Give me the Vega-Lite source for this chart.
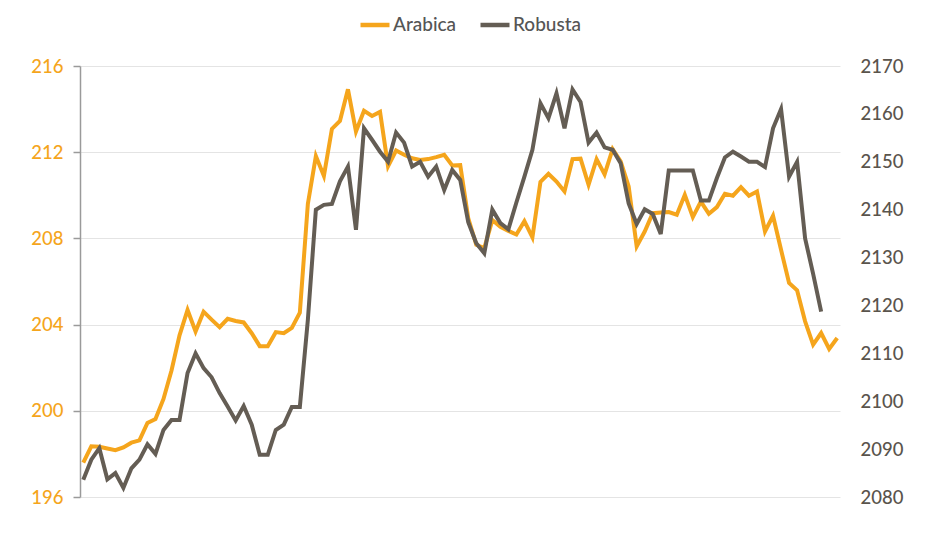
{
  "$schema": "https://vega.github.io/schema/vega-lite/v6.json",
  "width": 760,
  "height": 431,
  "autosize": "none",
  "padding": {"left": 80, "top": 66, "right": 90, "bottom": 42},
  "background": "white",
  "config": {
    "view": {"stroke": null},
    "font": "Lato",
    "axis": {"labelFont": "Lato", "titleFont": "Lato"},
    "legend": {"labelFont": "Lato"}
  },
  "data": {
    "values": [
      {"day": 0, "arabica": 197.6, "robusta": 2083.6},
      {"day": 1, "arabica": 198.35, "robusta": 2087.8},
      {"day": 2, "arabica": 198.33, "robusta": 2090.2},
      {"day": 3, "arabica": 198.25, "robusta": 2083.7},
      {"day": 4, "arabica": 198.17, "robusta": 2085.0},
      {"day": 5, "arabica": 198.3, "robusta": 2081.9},
      {"day": 6, "arabica": 198.52, "robusta": 2086.0},
      {"day": 7, "arabica": 198.63, "robusta": 2087.8},
      {"day": 8, "arabica": 199.44, "robusta": 2091.0},
      {"day": 9, "arabica": 199.62, "robusta": 2089.0},
      {"day": 10, "arabica": 200.55, "robusta": 2094.0},
      {"day": 11, "arabica": 201.87, "robusta": 2096.1},
      {"day": 12, "arabica": 203.5, "robusta": 2096.1},
      {"day": 13, "arabica": 204.68, "robusta": 2105.9},
      {"day": 14, "arabica": 203.68, "robusta": 2110.0},
      {"day": 15, "arabica": 204.6, "robusta": 2106.9},
      {"day": 16, "arabica": 204.23, "robusta": 2105.0},
      {"day": 17, "arabica": 203.88, "robusta": 2101.7},
      {"day": 18, "arabica": 204.27, "robusta": 2098.9},
      {"day": 19, "arabica": 204.17, "robusta": 2096.0},
      {"day": 20, "arabica": 204.1, "robusta": 2099.0},
      {"day": 21, "arabica": 203.6, "robusta": 2095.1},
      {"day": 22, "arabica": 203.0, "robusta": 2088.8},
      {"day": 23, "arabica": 203.0, "robusta": 2088.8},
      {"day": 24, "arabica": 203.65, "robusta": 2094.0},
      {"day": 25, "arabica": 203.6, "robusta": 2095.1},
      {"day": 26, "arabica": 203.85, "robusta": 2098.8},
      {"day": 27, "arabica": 204.55, "robusta": 2098.8},
      {"day": 28, "arabica": 209.6, "robusta": 2117.0},
      {"day": 29, "arabica": 211.82, "robusta": 2140.0},
      {"day": 30, "arabica": 210.9, "robusta": 2141.0},
      {"day": 31, "arabica": 213.08, "robusta": 2141.2},
      {"day": 32, "arabica": 213.45, "robusta": 2145.9},
      {"day": 33, "arabica": 214.92, "robusta": 2149.0},
      {"day": 34, "arabica": 212.96, "robusta": 2135.8},
      {"day": 35, "arabica": 213.92, "robusta": 2157.0},
      {"day": 36, "arabica": 213.68, "robusta": 2154.6},
      {"day": 37, "arabica": 213.87, "robusta": 2152.1},
      {"day": 38, "arabica": 211.35, "robusta": 2150.0},
      {"day": 39, "arabica": 212.08, "robusta": 2156.1},
      {"day": 40, "arabica": 211.88, "robusta": 2154.0},
      {"day": 41, "arabica": 211.72, "robusta": 2149.0},
      {"day": 42, "arabica": 211.64, "robusta": 2150.0},
      {"day": 43, "arabica": 211.68, "robusta": 2146.9},
      {"day": 44, "arabica": 211.77, "robusta": 2149.0},
      {"day": 45, "arabica": 211.88, "robusta": 2144.1},
      {"day": 46, "arabica": 211.38, "robusta": 2148.3},
      {"day": 47, "arabica": 211.4, "robusta": 2146.2},
      {"day": 48, "arabica": 208.93, "robusta": 2137.4},
      {"day": 49, "arabica": 207.7, "robusta": 2133.0},
      {"day": 50, "arabica": 207.55, "robusta": 2130.9},
      {"day": 51, "arabica": 208.85, "robusta": 2140.0},
      {"day": 52, "arabica": 208.54, "robusta": 2137.2},
      {"day": 53, "arabica": 208.35, "robusta": 2135.9},
      {"day": 54, "arabica": 208.18, "robusta": 2141.5},
      {"day": 55, "arabica": 208.8, "robusta": 2146.9},
      {"day": 56, "arabica": 208.05, "robusta": 2152.5},
      {"day": 57, "arabica": 210.62, "robusta": 2162.2},
      {"day": 58, "arabica": 211.0, "robusta": 2159.1},
      {"day": 59, "arabica": 210.64, "robusta": 2164.3},
      {"day": 60, "arabica": 210.18, "robusta": 2157.0},
      {"day": 61, "arabica": 211.68, "robusta": 2165.1},
      {"day": 62, "arabica": 211.7, "robusta": 2162.5},
      {"day": 63, "arabica": 210.49, "robusta": 2154.0},
      {"day": 64, "arabica": 211.68, "robusta": 2156.1},
      {"day": 65, "arabica": 210.97, "robusta": 2153.0},
      {"day": 66, "arabica": 212.14, "robusta": 2152.5},
      {"day": 67, "arabica": 211.57, "robusta": 2149.7},
      {"day": 68, "arabica": 210.41, "robusta": 2141.3},
      {"day": 69, "arabica": 207.63, "robusta": 2137.0},
      {"day": 70, "arabica": 208.32, "robusta": 2140.1},
      {"day": 71, "arabica": 209.17, "robusta": 2139.1},
      {"day": 72, "arabica": 209.2, "robusta": 2134.9},
      {"day": 73, "arabica": 209.22, "robusta": 2148.2},
      {"day": 74, "arabica": 209.1, "robusta": 2148.2},
      {"day": 75, "arabica": 210.02, "robusta": 2148.2},
      {"day": 76, "arabica": 208.99, "robusta": 2148.2},
      {"day": 77, "arabica": 209.71, "robusta": 2141.9},
      {"day": 78, "arabica": 209.14, "robusta": 2141.9},
      {"day": 79, "arabica": 209.45, "robusta": 2146.6},
      {"day": 80, "arabica": 210.07, "robusta": 2150.9},
      {"day": 81, "arabica": 209.98, "robusta": 2152.1},
      {"day": 82, "arabica": 210.38, "robusta": 2151.1},
      {"day": 83, "arabica": 209.98, "robusta": 2150.0},
      {"day": 84, "arabica": 210.18, "robusta": 2150.0},
      {"day": 85, "arabica": 208.32, "robusta": 2148.9},
      {"day": 86, "arabica": 209.05, "robusta": 2157.0},
      {"day": 87, "arabica": 207.47, "robusta": 2161.0},
      {"day": 88, "arabica": 205.93, "robusta": 2146.9},
      {"day": 89, "arabica": 205.59, "robusta": 2150.0},
      {"day": 90, "arabica": 204.15, "robusta": 2134.0},
      {"day": 91, "arabica": 203.07, "robusta": 2126.6},
      {"day": 92, "arabica": 203.61, "robusta": 2118.7},
      {"day": 93, "arabica": 202.87, "robusta": null},
      {"day": 94, "arabica": 203.38, "robusta": null}
    ]
  },
  "encoding": {
    "x": {
      "field": "day",
      "type": "quantitative",
      "scale": {"domain": [-0.41, 94.35], "nice": false, "zero": false},
      "axis": null
    }
  },
  "layer": [
    {
      "mark": {"type": "line", "strokeWidth": 4},
      "encoding": {
        "y": {
          "field": "arabica",
          "type": "quantitative",
          "scale": {"domain": [196, 216], "nice": false, "zero": false},
          "axis": {
            "orient": "left",
            "title": null,
            "values": [196, 200, 204, 208, 212, 216],
            "format": "d",
            "labelColor": "#F5A51C",
            "labelFontSize": 18.5,
            "labelFontWeight": 500,
            "labelPadding": 10,
            "domainColor": "#9a9a9a",
            "domainWidth": 1.5,
            "tickColor": "#9a9a9a",
            "tickWidth": 1.5,
            "tickSize": 7,
            "grid": true,
            "gridColor": "#e4e4e4",
            "gridWidth": 1
          }
        },
        "color": {
          "datum": "Arabica",
          "type": "nominal",
          "scale": {"domain": ["Arabica", "Robusta"], "range": ["#F5A51C", "#645D54"]},
          "legend": {
            "title": null,
            "orient": "none",
            "legendX": 278,
            "legendY": -58,
            "direction": "horizontal",
            "symbolType": "stroke",
            "symbolSize": 841,
            "symbolStrokeWidth": 4.5,
            "labelFontSize": 19,
            "labelFontWeight": 500,
            "labelColor": "#555555",
            "labelOffset": 1,
            "columnPadding": 14
          }
        }
      }
    },
    {
      "mark": {"type": "line", "strokeWidth": 4},
      "encoding": {
        "y": {
          "field": "robusta",
          "type": "quantitative",
          "scale": {"domain": [2080, 2170], "nice": false, "zero": false},
          "axis": {
            "orient": "right",
            "title": null,
            "values": [2080, 2090, 2100, 2110, 2120, 2130, 2140, 2150, 2160, 2170],
            "format": "d",
            "labelColor": "#5a544c",
            "labelFontSize": 18.5,
            "labelFontWeight": 500,
            "labelPadding": 20,
            "domain": false,
            "ticks": false,
            "grid": false
          }
        },
        "color": {"datum": "Robusta", "type": "nominal"}
      }
    }
  ],
  "resolve": {"scale": {"y": "independent"}}
}
